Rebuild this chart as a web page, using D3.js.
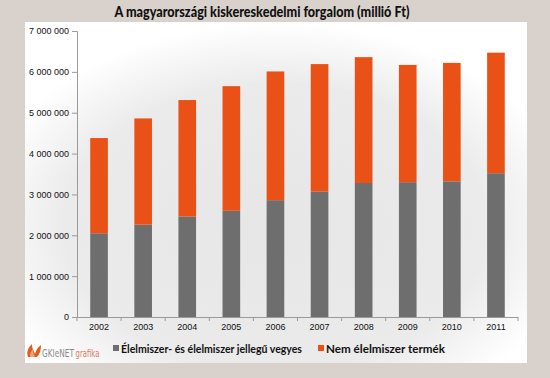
<!DOCTYPE html>
<html><head><meta charset="utf-8">
<script src="https://cdn.jsdelivr.net/npm/d3@7"></script>
<style>
html,body{margin:0;padding:0;background:#d9d2cc;}
svg{display:block;font-family:"Open Sans","Liberation Sans",sans-serif;}
</style></head>
<body>
<svg id="c" width="550" height="378"></svg>
<script>
const years = ["2002","2003","2004","2005","2006","2007","2008","2009","2010","2011"];
const foodValues = [2050000,2260000,2460000,2600000,2860000,3070000,3280000,3300000,3320000,3520000];
const nonFoodValues = [2330000,2600000,2850000,3050000,3150000,3120000,3080000,2870000,2900000,2950000];
const seriesNames = ["Élelmiszer- és élelmiszer jellegű vegyes","Nem élelmiszer termék"];
const seriesColors = ["#6e6e6e","#ea5117"];
const yTicks = [0,1000000,2000000,3000000,4000000,5000000,6000000,7000000];
const title = "A magyarországi kiskereskedelmi forgalom (millió Ft)";

const svg = d3.select("#c");
const W = 550, H = 378;
svg.append("rect").attr("width",W).attr("height",H).attr("fill","#d9d2cc");

const defs = svg.append("defs");
const rg = defs.append("radialGradient").attr("id","pg").attr("cx","0.5").attr("cy","0.6").attr("r","0.6");
rg.append("stop").attr("offset","0").attr("stop-color","#e6e6e6");
rg.append("stop").attr("offset","0.7").attr("stop-color","#ebebeb");
rg.append("stop").attr("offset","1").attr("stop-color","#ffffff");

svg.append("rect").attr("x",25).attr("y",22).attr("width",502).attr("height",341).attr("fill","url(#pg)");

svg.append("text").attr("x",262).attr("y",17).attr("text-anchor","middle")
  .attr("font-size",14.5).attr("font-weight","900").attr("fill","#111")
  .attr("font-family","Lato, 'Open Sans', sans-serif")
  .attr("textLength",295).attr("lengthAdjust","spacingAndGlyphs")
  .text(title);

const x = d3.scaleBand().domain(years).range([77,518]).paddingInner(0.6).paddingOuter(0.3);
const y = d3.scaleLinear().domain([0,7000000]).range([317,31]);

const data = years.map((yr,i)=>({year:yr, food:foodValues[i], nonfood:nonFoodValues[i]}));
const stack = d3.stack().keys(["food","nonfood"])(data);

svg.append("g").selectAll("g").data(stack).join("g")
  .attr("fill",(d,i)=>seriesColors[i])
  .selectAll("rect").data(d=>d).join("rect")
  .attr("x",d=>x(d.data.year)).attr("width",x.bandwidth())
  .attr("y",d=>y(d[1])).attr("height",d=>y(d[0])-y(d[1]));

const yAxis = d3.axisLeft(y).tickValues(yTicks).tickSize(5).tickPadding(3).tickFormat(v=>d3.format(",")(v).replace(/,/g," "));
const gy = svg.append("g").attr("transform","translate(77,0)").call(yAxis);
gy.selectAll("path,line").attr("stroke","#9a9a9a");
gy.selectAll("text").attr("font-size",9).attr("fill","#111");

const xAxis = d3.axisBottom(x).tickSize(0).tickPadding(7);
const gx = svg.append("g").attr("transform","translate(0,317)").call(xAxis);
gx.select("path").attr("stroke","#9a9a9a");
gx.selectAll("text").attr("font-size",9).attr("fill","#111");
const seps = d3.range(years.length+1).map(i=>x.range()[0] + i*((x.range()[1]-x.range()[0])/years.length));
gx.selectAll(".sep").data(seps).join("line").attr("class","sep")
  .attr("x1",d=>d).attr("x2",d=>d).attr("y1",0).attr("y2",4).attr("stroke","#9a9a9a");

// legend
const leg = svg.append("g").attr("font-size",11).attr("font-weight","bold").attr("fill","#111")
  .attr("font-family","Lato, 'Open Sans', sans-serif");
const legX = [113,318];
const legW = [181,119];
seriesNames.forEach((n,i)=>{
  leg.append("rect").attr("x",legX[i]).attr("y",345).attr("width",6).attr("height",6).attr("fill",seriesColors[i]);
  leg.append("text").attr("x",legX[i]+8).attr("y",352.5)
    .attr("textLength",legW[i]).attr("lengthAdjust","spacingAndGlyphs").text(n);
});

// logo
const logo = svg.append("g");
logo.append("path").attr("d","M28,357 C26,351 29,347 32,344 C32,349 34,351 35,354 C36,350 38,347 41,345 C41,350 40,354 37,357 Z").attr("fill","#e85a1c");
logo.append("path").attr("d","M30,357 C30,353 31,351 33,349 C33,353 34,355 35,357 Z").attr("fill","#f3a27a");
function squeezed(str, x0, targetW, color){
  const t = logo.append("text").attr("x",0).attr("y",0).attr("font-size",11)
    .attr("font-family","'Liberation Sans Narrow','DejaVu Sans Condensed',sans-serif")
    .attr("fill",color).text(str);
  const w = t.node().getComputedTextLength();
  t.attr("transform",`translate(${x0},357) scale(${targetW/w},1)`);
}
squeezed("GKIeNET", 42, 32, "#8a8a8a");
squeezed("grafika", 75.5, 24, "#e07a5e");
</script>
</body></html>
